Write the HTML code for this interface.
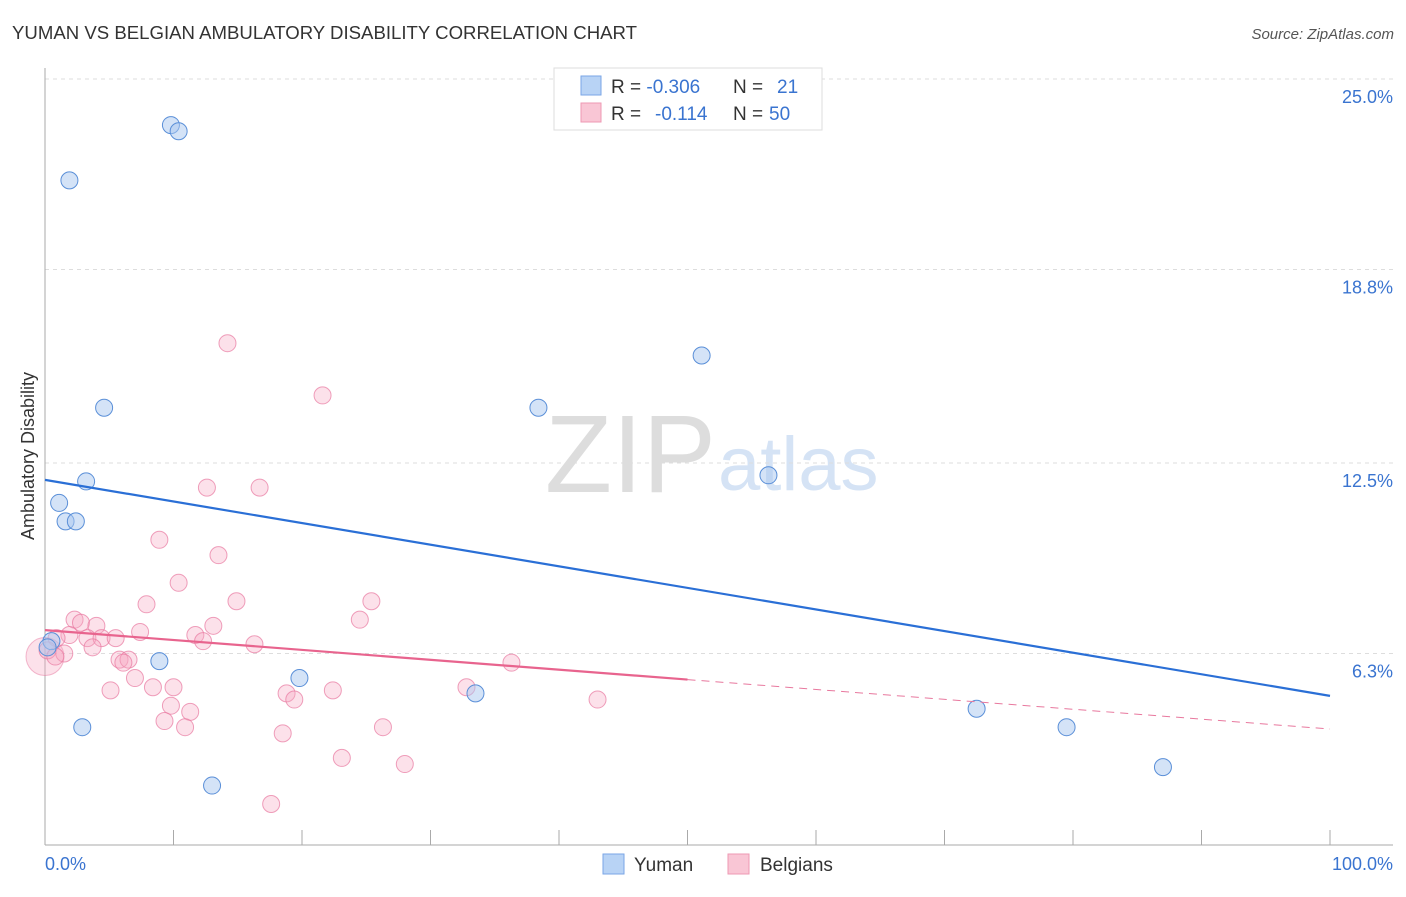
<!DOCTYPE html>
<html><head><meta charset="utf-8"><style>
body{margin:0;background:#fff;font-family:"Liberation Sans",sans-serif;}
svg text{font-family:"Liberation Sans",sans-serif;}
</style></head><body>
<svg id="c" width="1406" height="892" xmlns="http://www.w3.org/2000/svg">
<text x="12" y="39" font-size="18" fill="#333" textLength="625" lengthAdjust="spacingAndGlyphs">YUMAN VS BELGIAN AMBULATORY DISABILITY CORRELATION CHART</text>
<text x="1394" y="39" font-size="15" fill="#555" font-style="italic" text-anchor="end">Source: ZipAtlas.com</text>
<text x="716" y="492" font-size="110" fill="#ddd" font-family="Liberation Serif" text-anchor="end">ZIP</text>
<text x="718" y="490" font-size="76" fill="#d5e3f5">atlas</text>
<g id="grid"></g>
<g id="axes"></g>
<g id="pts"></g>
<g id="lines"></g>
<text transform="translate(34,456) rotate(-90)" font-size="18" fill="#333" text-anchor="middle">Ambulatory Disability</text>
<text x="45" y="870" font-size="18" fill="#3a74d0">0.0%</text>
<text x="1393" y="870" font-size="18" fill="#3a74d0" text-anchor="end">100.0%</text>
<g>
<rect x="554" y="68" width="268" height="62" fill="#fff" stroke="#ddd"/>
<rect x="581" y="76" width="20" height="19" fill="#b8d3f5" stroke="#7aa6e6"/>
<rect x="581" y="103" width="20" height="19" fill="#f9c6d5" stroke="#ee98b3"/>
<text x="611" y="93" font-size="19" fill="#333">R = <tspan fill="#3a74d0">-0.306</tspan><tspan x="733">N = </tspan><tspan x="777" fill="#3a74d0">21</tspan></text>
<text x="611" y="120" font-size="19" fill="#333">R = <tspan x="655" fill="#3a74d0">-0.114</tspan><tspan x="733">N = </tspan><tspan x="769" fill="#3a74d0">50</tspan></text>
</g>
<g>
<rect x="603" y="854" width="21" height="20" fill="#b8d3f5" stroke="#7aa6e6"/>
<text x="634" y="871" font-size="19" fill="#333">Yuman</text>
<rect x="728" y="854" width="21" height="20" fill="#f9c6d5" stroke="#ee98b3"/>
<text x="760" y="871" font-size="19" fill="#333">Belgians</text>
</g>
</svg>
<script>
const yTicks=[25,18.8,12.5,6.3];
const yTickLabels=["25.0%","18.8%","12.5%","6.3%"];
const yumanX=[9.8,10.4,1.9,51.1,4.6,38.4,3.2,56.3,1.1,1.6,2.4,0.5,0.2,8.9,19.8,33.5,2.9,72.5,79.5,87.0,13.0];
const yumanY=[23.5,23.3,21.7,16.0,14.3,14.3,11.9,12.1,11.2,10.6,10.6,6.7,6.5,6.05,5.5,5.0,3.9,4.5,3.9,2.6,2.0];
const belX=[14.2,21.6,12.6,16.7,8.9,13.5,10.4,7.9,14.9,25.4,24.5,2.3,2.8,4.0,13.1,7.4,11.7,1.9,0.9,3.3,4.4,5.5,12.3,16.3,3.7,0.2,1.5,0.8,5.8,6.5,6.1,36.3,7.0,8.4,10.0,5.1,22.4,18.8,32.8,19.4,43.0,9.8,11.3,9.3,10.9,26.3,18.5,23.1,28.0,17.6];
const belY=[16.4,14.7,11.7,11.7,10.0,9.5,8.6,7.9,8.0,8.0,7.4,7.4,7.3,7.2,7.2,7.0,6.9,6.9,6.8,6.8,6.8,6.8,6.7,6.6,6.5,6.4,6.3,6.2,6.1,6.1,6.0,6.0,5.5,5.2,5.2,5.1,5.1,5.0,5.2,4.8,4.8,4.6,4.4,4.1,3.9,3.9,3.7,2.9,2.7,1.4];
const blueFit=[11.95,4.92];
const pinkFit=[7.06,3.84];
const X=v=>45+v/100*1285, Y=v=>847-v*30.72;
const NS="http://www.w3.org/2000/svg";
function mk(t,p,a){const e=document.createElementNS(NS,t);for(const k in a)e.setAttribute(k,a[k]);p.appendChild(e);return e;}
const g=document.getElementById('grid'),ax=document.getElementById('axes'),pts=document.getElementById('pts'),ln=document.getElementById('lines');
yTicks.forEach((t,i)=>{
const l=mk('line',g,{x1:45,x2:1393,y1:Y(t),y2:Y(t),stroke:'#ddd','stroke-dasharray':'4,4'});


const tx=mk('text',g,{x:1393,y:Y(t)+24,'font-size':18,fill:'#3a74d0','text-anchor':'end'});tx.textContent=yTickLabels[i];


});
const a1=mk('line',ax,{x1:45,x2:45,y1:68,y2:845,stroke:'#aaa'});


const a2=mk('line',ax,{x1:45,x2:1393,y1:845,y2:845,stroke:'#aaa'});


for(let i=0;i<=10;i++){const tk=mk('line',ax,{x1:X(i*10),x2:X(i*10),y1:830,y2:845,stroke:'#aaa'});

}
const big=mk('circle',pts,{cx:X(0),cy:Y(6.2),r:19,fill:'rgba(246,170,195,0.35)',stroke:'rgba(232,120,160,0.5)'});


belX.forEach((v,i)=>{const c=mk('circle',pts,{cx:X(v),cy:Y(belY[i]),r:8.5,fill:'rgba(246,170,195,0.35)',stroke:'rgba(232,120,160,0.7)'});

});
yumanX.forEach((v,i)=>{const c=mk('circle',pts,{cx:X(v),cy:Y(yumanY[i]),r:8.5,fill:'rgba(170,200,240,0.5)',stroke:'#5a8fd8'});

});
const bl=mk('line',ln,{x1:X(0),y1:Y(blueFit[0]),x2:X(100),y2:Y(blueFit[1]),stroke:'#2a6fd6','stroke-width':2.2});


const pm=pinkFit[0]+(pinkFit[1]-pinkFit[0])*0.5;
const pl=mk('line',ln,{x1:X(0),y1:Y(pinkFit[0]),x2:X(50),y2:Y(pm),stroke:'#e8648e','stroke-width':2.2});


const pd=mk('line',ln,{x1:X(50),y1:Y(pm),x2:X(100),y2:Y(pinkFit[1]),stroke:'#e8789e','stroke-width':1,'stroke-dasharray':'8,6'});


</script>
</body></html>
